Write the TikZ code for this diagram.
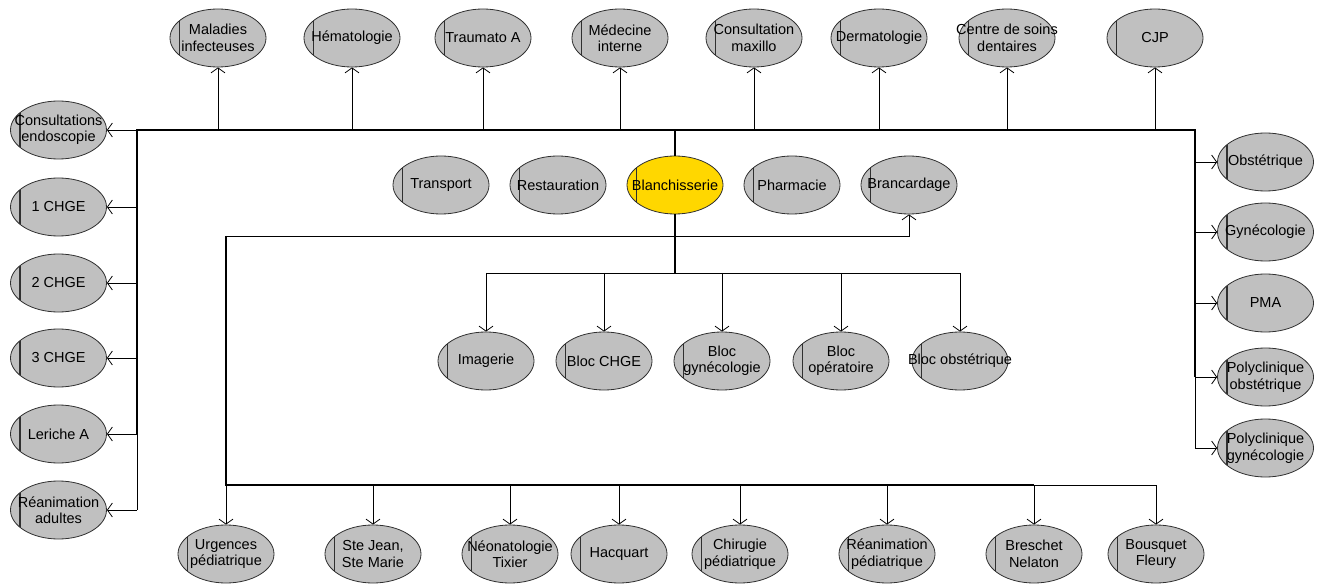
\documentclass[tikz,border=0pt]{standalone}
\usepackage{fontspec}
\setmainfont{Liberation Sans}
\usetikzlibrary{arrows.meta,shapes.geometric}
\definecolor{ellgrey}{HTML}{C0C0C0}
\definecolor{gold}{HTML}{FFD700}
\definecolor{edge}{HTML}{303030}
\tikzset{
  unit/.style={ellipse, draw=edge, line width=0.8pt, fill=ellgrey,
    minimum width=96pt, minimum height=58pt, inner sep=0pt,
    path picture={\draw[line width=1.2pt, edge]
      ([xshift=9.5pt]path picture bounding box.south west) --
      ([xshift=9.5pt]path picture bounding box.north west);}},
  lbl/.style={font=\fontsize{14.5}{16.5}\selectfont, align=center, inner sep=0pt},
  arr/.style={-{Straight Barb[length=5pt,width=14pt,line width=0.8pt]}, line width=0.8pt},
  thinline/.style={line width=0.8pt},
  trunk/.style={line width=1.7pt, line join=miter},
}
\newcommand\mknode[4]{%
  \node[unit,#4] (#1) at (#2) {};
  \node[lbl] (#1t) at (#1) {#3};}
\begin{document}
\begin{tikzpicture}[x=1pt,y=-1pt]
\useasboundingbox (0,0) rectangle (1322,585);
% top row
\mknode{T1}{218,38}{Maladies\\infecteuses}{}
\mknode{T2}{352,38}{Hématologie}{}
\mknode{T3}{483,38}{Traumato A}{}
\mknode{T4}{620,38}{Médecine\\interne}{}
\mknode{T5}{754,38}{Consultation\\maxillo}{}
\mknode{T6}{879,38}{Dermatologie}{}
\mknode{T7}{1007,38}{Centre de soins\\dentaires}{}
\mknode{T8}{1155,38}{CJP}{}
% left column
\mknode{L1}{58.5,130}{Consultations\\endoscopie}{}
\mknode{L2}{58.5,207}{1 CHGE}{}
\mknode{L3}{58.5,283}{2 CHGE}{}
\mknode{L4}{58.5,358}{3 CHGE}{}
\mknode{L5}{58.5,434}{Leriche A}{}
\mknode{L6}{58.5,510}{Réanimation\\adultes}{}
% right column
\mknode{R1}{1265.5,162}{Obstétrique}{}
\mknode{R2}{1265.5,232}{Gynécologie}{}
\mknode{R3}{1265.5,303}{PMA}{}
\mknode{R4}{1265.5,377}{Polyclinique\\obstétrique}{}
\mknode{R5}{1265.5,448}{Polyclinique\\gynécologie}{}
% middle row
\mknode{M1}{441,185}{Transport}{}
\mknode{M2}{558,185}{Restauration}{}
\mknode{M3}{675,185}{Blanchisserie}{fill=gold}
\mknode{M4}{792,185}{Pharmacie}{}
\mknode{M5}{909,185}{Brancardage}{}
% bloc row
\mknode{K1}{486,361}{Imagerie}{}
\mknode{K2}{604,361}{Bloc CHGE}{}
\mknode{K3}{722,361}{Bloc\\gynécologie}{}
\mknode{K4}{841,361}{Bloc\\opératoire}{}
\mknode{K5}{960,361}{Bloc obstétrique}{}
% bottom row
\mknode{U1}{226,554}{Urgences\\pédiatrique}{}
\mknode{U2}{373,554}{Ste Jean,\\Ste Marie}{}
\mknode{U3}{510,554}{Néonatologie\\Tixier}{}
\mknode{U4}{619,554}{Hacquart}{}
\mknode{U5}{740,554}{Chirugie\\pédiatrique}{}
\mknode{U6}{887,554}{Réanimation\\pédiatrique}{}
\mknode{U7}{1034,554}{Breschet\\Nelaton}{}
\mknode{U8}{1156,554}{Bousquet\\Fleury}{}
% junction coordinates
\coordinate (TL) at (137,130);
\coordinate (TR) at (1195,130);
\coordinate (BL) at (226,236);
\coordinate (BB) at (226,485);
\coordinate (BM) at (675,273);
% upper trunk
\draw[trunk] (M3.north) -- (M3 |- TL);
\draw[trunk] (L5 -| TL) -- (TL) -- (TR) -- (R4 -| TR);
\draw[thinline] (L5 -| TL) -- (L6 -| TL);
\draw[thinline] (R4 -| TR) -- (R5 -| TR);
\foreach \n in {T1,T2,T3,T4,T5,T6,T7,T8}
  \draw[arr] (\n |- TL) -- (\n.south);
\foreach \n in {L1,L2,L3,L4,L5,L6}
  \draw[arr] (\n -| TL) -- (\n.east);
\foreach \n in {R1,R2,R3,R4,R5}
  \draw[arr] (\n -| TR) -- (\n.west);
% lower trunk
\draw[trunk] (M3.south) -- (BM);
\draw[arr] (BL) -- (M5 |- BL) -- (M5.south);
\draw[trunk] (BL) -- (BB) -- (U7 |- BB);
\draw[thinline] (U7 |- BB) -- (U8 |- BB);
\foreach \n in {U1,U2,U3,U4,U5,U6,U7,U8}
  \draw[arr] (\n |- BB) -- (\n.north);
\draw[thinline] (K1 |- BM) -- (K5 |- BM);
\foreach \n in {K1,K2,K3,K4,K5}
  \draw[arr] (\n |- BM) -- (\n.north);
\end{tikzpicture}
\end{document}
